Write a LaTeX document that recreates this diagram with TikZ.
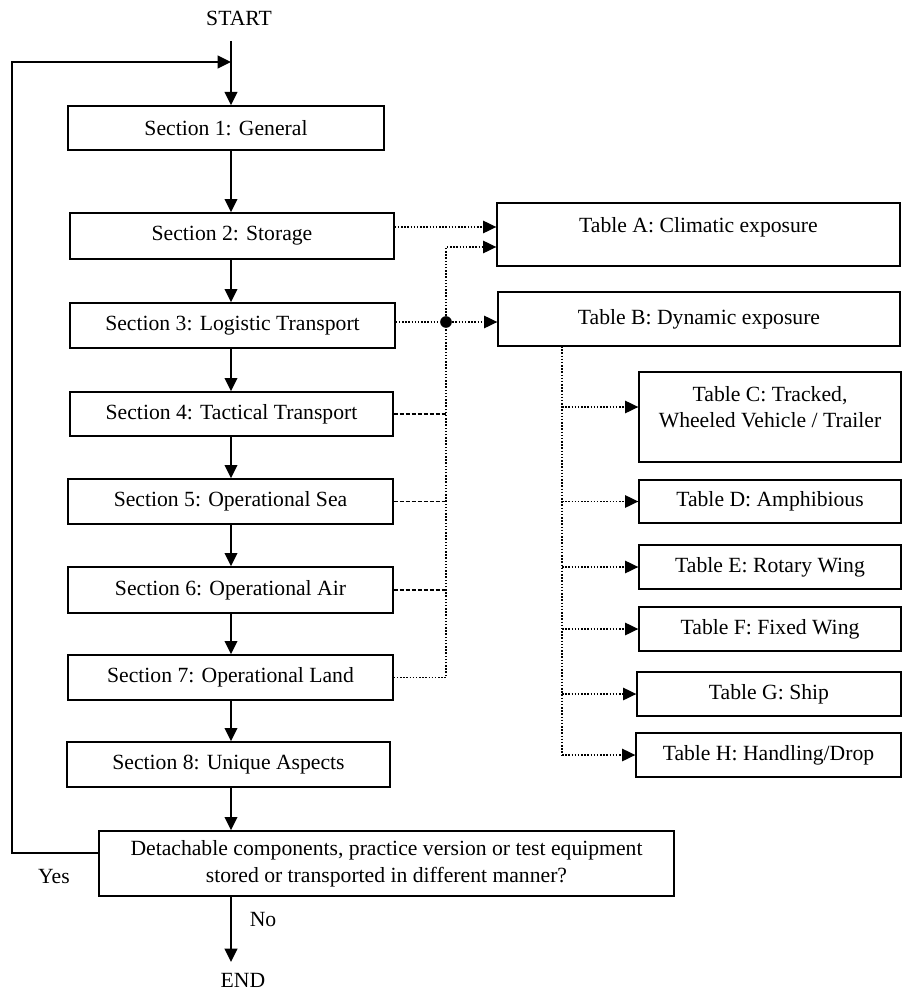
\documentclass[tikz,border=0pt]{standalone}
\usepackage{fontspec}
\setmainfont{Liberation Serif}
\usetikzlibrary{arrows.meta}
\tikzset{
secbox/.style 2 args={
  draw,
  line width=0.8pt,
  minimum width=#1*0.6pt,
  minimum height=#2*0.6pt,
  inner sep=0pt,
  align=center
  },
flow/.style={->, line width=1.3pt},
dotflow/.style={line width=0.9pt, densely dotted},
dashflow/.style={line width=0.9pt, dash pattern=on 2.4pt off 1.2pt}
}

\begin{document}
\begin{tikzpicture}[x=0.6pt, y=-0.6pt, >={Triangle[length=8pt,width=7.5pt]}, font=\fontsize{13}{16}\selectfont]
\useasboundingbox (0,0) rectangle (902,992);

\node (start) at (239,18) {START};
\coordinate (spine) at (231,41);
\coordinate (loopin) at (231,62);

\node[secbox={316}{44}] (s1) at (226,128) {Section 1: General};
\node[secbox={324}{46}] (s2) at (232,236) {Section 2: Storage};
\node[secbox={325}{45}] (s3) at (232.5,325.5) {Section 3: Logistic Transport};
\node[secbox={323}{44}] (s4) at (231.5,414) {Section 4: Tactical Transport};
\node[secbox={325}{45}] (s5) at (230.5,501.5) {Section 5: Operational Sea};
\node[secbox={325}{46}] (s6) at (230.5,590) {Section 6: Operational Air};
\node[secbox={325}{45}] (s7) at (230.5,677.5) {Section 7: Operational Land};
\node[secbox={323}{45}] (s8) at (228.5,764.5) {Section 8: Unique Aspects};
\node[secbox={575}{65}] (dec) at (386.5,863.5)
  {Detachable components, practice version or test equipment\\stored or transported in different manner?};
\node (yes) at (54,877) {Yes};
\node (no) at (263,920) {No};
\node (stop) at (243,980) {END};
\coordinate (endtip) at (231,962);

\node[secbox={403}{63}] (tA) at (698.5,234.5) {Table A: Climatic exposure\\[-4pt] \mbox{}};
\node[secbox={402}{54}] (tB) at (699,319) {Table B: Dynamic exposure};
\node[secbox={262}{90}] (tC) at (770,417) {Table C: Tracked,\\Wheeled Vehicle / Trailer\\[-4pt] \mbox{}};
\node[secbox={262}{43}] (tD) at (770,501.5) {Table D: Amphibious};
\node[secbox={262}{44}] (tE) at (770,567) {Table E: Rotary Wing};
\node[secbox={262}{44}] (tF) at (770,629) {Table F: Fixed Wing};
\node[secbox={264}{44}] (tG) at (769,694) {Table G: Ship};
\node[secbox={265}{44}] (tH) at (768.5,755) {Table H: Handling/Drop};

\draw[flow] (spine) -- (s1.north -| spine);
\draw[flow] ([yshift=6.3pt]dec.west) -| (12,62) -- (loopin);
\foreach \a/\b in {s1/s2,s2/s3,s3/s4,s4/s5,s5/s6,s6/s7,s7/s8,s8/dec}
  \draw[flow] (\a.south -| spine) -- (\b.north -| spine);
\draw[flow] (dec.south -| spine) -- (endtip);

\node[circle, fill, inner sep=0pt, minimum size=7pt] (dot) at (446,322) {};
\coordinate (a1) at ([yshift=4.5pt]tA.west);
\coordinate (a2) at ([yshift=-7.5pt]tA.west);
\draw[dotflow,->] (s2.east |- a1) -- (a1);
\draw[dotflow,->] (s3.east |- dot) -- (dot) -- (dot -| tB.west);
\draw[dotflow,->] (s7.east) -| (dot) |- (a2);
\foreach \s in {s4,s5,s6}
  \draw[dashflow] (\s.east) -- (\s.east -| dot);

\coordinate (bus) at (562,346);
\coordinate (cin) at ([yshift=6pt]tC.west);
\draw[dotflow] (bus) -- (bus |- tH.west);
\draw[dotflow,->] (cin -| bus) -- (cin);
\foreach \t in {tD,tE,tF,tG,tH}
  \draw[dotflow,->] (bus |- \t.west) -- (\t.west);
\end{tikzpicture}
\end{document}
